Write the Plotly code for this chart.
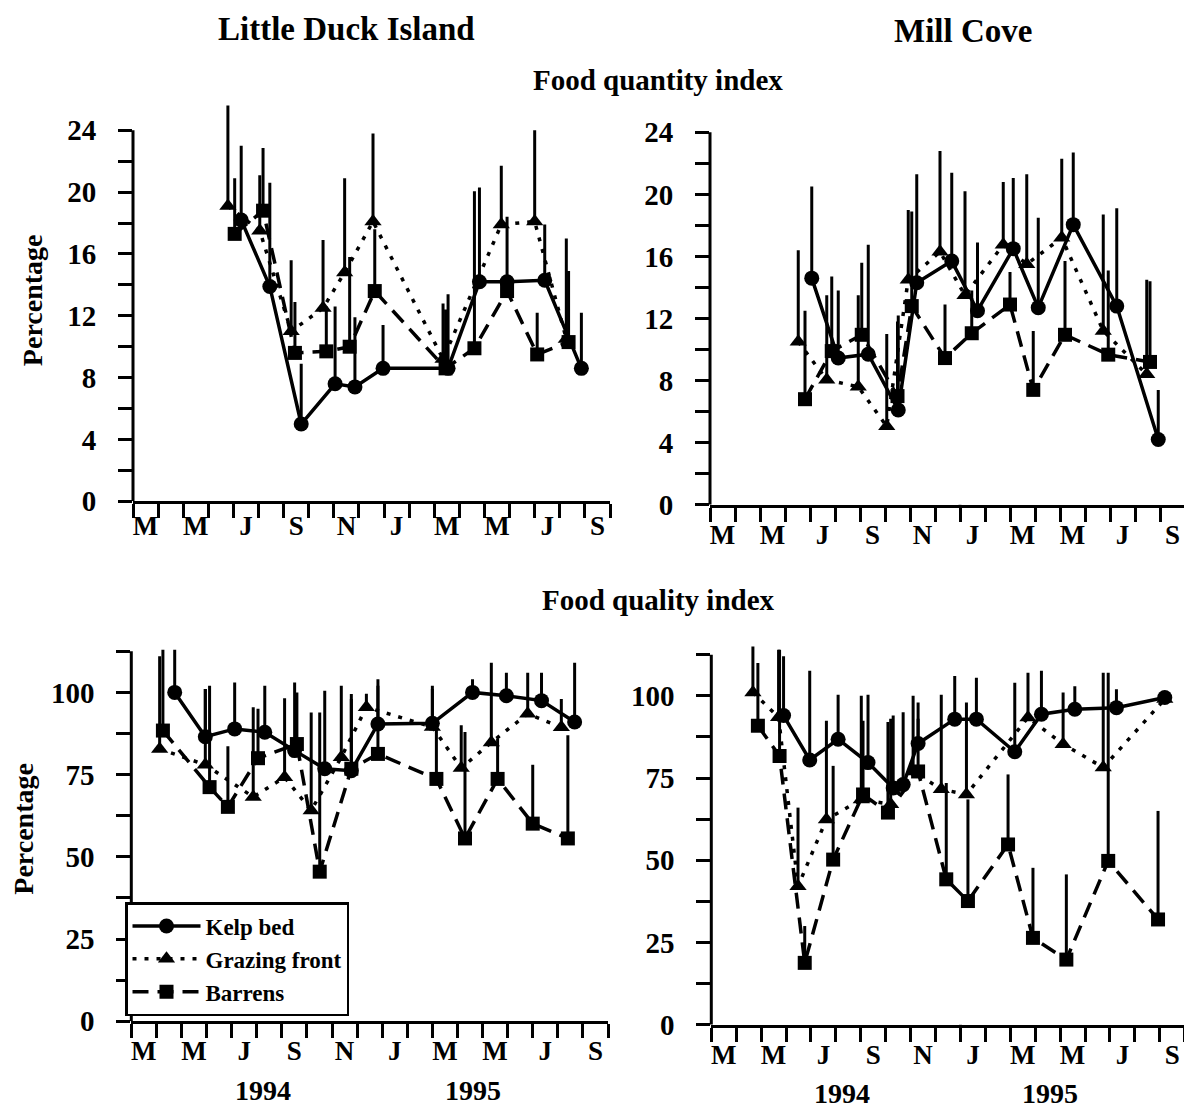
import plotly.graph_objects as go

FONT = "Liberation Serif"

# x positions are month indices: 0 = start of March 1994, 19 = end of September 1995
MONTH_TICKS = list(range(20))
MONTH_LABEL_POS = [0.5, 2.5, 4.5, 6.5, 8.5, 10.5, 12.5, 14.5, 16.5, 18.5]
MONTH_LABELS = ["M", "M", "J", "S", "N", "J", "M", "M", "J", "S"]
YEAR_BOUNDARY = [10]          # 1 January 1995
YEAR_LABELS = ["1994", "1995"]
YEAR_POS = [5.25, 13.6]
SERIES = ["Kelp bed", "Grazing front", "Barrens"]

QN_TICKS = [0, 4, 8, 12, 16, 20, 24]
QN_MINOR = [0, 2, 4, 6, 8, 10, 12, 14, 16, 18, 20, 22, 24]
QL_TICKS = [0, 25, 50, 75, 100]
QL_MINOR = [0, 12.5, 25, 37.5, 50, 62.5, 75, 87.5, 100, 112.5]

# ---------- Little Duck Island, food quantity index ----------
ldi_qn_kelp_m = [4.31, 5.45, 6.70, 8.05, 8.84, 9.96, 12.55, 13.80, 14.90, 16.40, 17.86]
ldi_qn_kelp_v = [18.2, 13.9, 5.0, 7.6, 7.4, 8.6, 8.6, 14.2, 14.2, 14.3, 8.6]
ldi_qn_kelp_t = [23.0, 20.6, 8.9, 12.6, 11.9, 11.4, 13.4, 20.3, 18.4, 17.9, 12.2]

ldi_qn_graz_m = [3.78, 5.05, 6.30, 7.57, 8.43, 9.56, 12.35, 14.67, 16.00, 17.26]
ldi_qn_graz_v = [19.1, 17.5, 11.0, 12.5, 14.8, 18.1, 9.2, 17.9, 18.1, 10.5]
ldi_qn_graz_t = [25.6, 21.1, 15.6, 16.9, 20.9, 23.8, 12.8, 21.7, 24.0, 17.0]

ldi_qn_barr_m = [4.05, 5.18, 6.45, 7.70, 8.63, 9.63, 12.45, 13.60, 14.90, 16.10, 17.35]
ldi_qn_barr_v = [17.3, 18.8, 9.6, 9.7, 10.0, 13.6, 8.6, 9.9, 13.6, 9.5, 10.3]
ldi_qn_barr_t = [20.9, 22.85, 12.9, 12.6, 15.8, 17.6, 12.4, 20.05, 14.5, 12.2, 14.9]

# ---------- Mill Cove, food quantity index ----------
mc_qn_kelp_m = [4.07, 5.13, 6.33, 7.53, 8.27, 9.67, 10.70, 12.13, 13.13, 14.53, 16.27, 17.93]
mc_qn_kelp_v = [14.6, 9.45, 9.7, 6.1, 14.3, 15.7, 12.5, 16.5, 12.7, 18.05, 12.8, 4.2]
mc_qn_kelp_t = [20.5, 13.8, 16.75, 12.2, 21.3, 21.4, 16.9, 21.05, 18.5, 22.7, 19.1, 7.4]

mc_qn_graz_m = [3.53, 4.67, 5.93, 7.07, 7.93, 9.20, 10.20, 11.73, 12.67, 14.07, 15.73, 17.47]
mc_qn_graz_v = [10.5, 8.05, 7.6, 5.05, 14.5, 16.3, 13.5, 16.75, 15.5, 17.2, 11.2, 8.4]
mc_qn_graz_t = [16.4, 13.5, 13.5, 11.0, 19.0, 22.8, 20.2, 20.8, 21.3, 22.3, 18.7, 14.5]

mc_qn_barr_m = [3.80, 4.87, 6.07, 7.50, 8.07, 9.40, 10.47, 12.00, 12.93, 14.20, 15.93, 17.60]
mc_qn_barr_v = [6.8, 9.9, 10.95, 7.0, 12.8, 9.45, 11.05, 12.9, 7.4, 10.95, 9.67, 9.2]
mc_qn_barr_t = [12.5, 14.7, 15.6, 11.8, 18.9, 12.9, 13.8, 15.0, 11.2, 15.7, 15.1, 14.4]

# ---------- Little Duck Island, food quality index ----------
ldi_ql_kelp_m = [1.73, 2.95, 4.12, 5.32, 6.51, 7.71, 8.77, 9.83, 12.00, 13.60, 14.95, 16.35, 17.67]
ldi_ql_kelp_v = [100.0, 86.5, 88.9, 87.9, 82.3, 76.8, 76.2, 90.4, 90.6, 100.0, 99.0, 97.5, 91.0]
ldi_ql_kelp_t = [113.0, 101.0, 103.0, 102.0, 103.0, 100.5, 99.5, 104.0, 102.0, 104.0, 106.0, 106.0, 109.0]

ldi_ql_graz_m = [1.13, 2.95, 4.86, 6.11, 7.17, 8.37, 9.37, 12.00, 13.15, 14.35, 15.80, 17.14]
ldi_ql_graz_v = [82.8, 78.0, 68.2, 74.2, 64.1, 80.3, 95.5, 89.5, 77.0, 84.8, 93.5, 89.4]
ldi_ql_graz_t = [111.0, 101.0, 95.5, 98.2, 93.9, 102.0, 99.6, 101.0, 90.0, 109.0, 106.0, 98.0]

ldi_ql_barr_m = [1.26, 3.12, 3.85, 5.05, 6.60, 7.51, 8.77, 9.83, 12.16, 13.30, 14.60, 16.00, 17.40]
ldi_ql_barr_v = [88.4, 71.2, 65.2, 80.0, 84.3, 45.5, 76.8, 81.3, 73.7, 55.6, 73.7, 60.1, 55.6]
ldi_ql_barr_t = [113.0, 102.0, 83.6, 95.0, 100.0, 93.9, 98.0, 102.0, 91.0, 88.0, 86.0, 78.0, 87.0]

# ---------- Mill Cove, food quality index ----------
mc_ql_kelp_m = [2.90, 3.95, 5.09, 6.29, 7.30, 7.70, 8.30, 9.77, 10.64, 12.18, 13.25, 14.59, 16.26, 18.20]
mc_ql_kelp_v = [94.0, 80.5, 86.8, 79.7, 72.0, 73.0, 85.5, 92.9, 92.9, 83.0, 94.4, 95.9, 96.4, 99.5]
mc_ql_kelp_t = [112.0, 107.6, 100.3, 100.3, 94.0, 95.0, 98.0, 106.0, 105.5, 104.0, 107.6, 102.9, 102.0, 101.0]

mc_ql_graz_m = [1.67, 2.70, 3.48, 4.62, 6.02, 7.20, 8.10, 9.23, 10.24, 12.71, 14.12, 15.73, 18.20]
mc_ql_graz_v = [101.0, 93.5, 42.1, 62.4, 68.5, 67.0, 77.0, 71.6, 70.0, 93.4, 85.3, 78.2, 99.0]
mc_ql_graz_t = [115.0, 114.0, 66.0, 92.4, 100.0, 93.0, 100.0, 100.3, 98.0, 107.0, 101.0, 107.0, 100.0]

mc_ql_barr_m = [1.87, 2.74, 3.75, 4.89, 6.09, 7.09, 8.30, 9.43, 10.30, 11.91, 12.91, 14.25, 15.93, 17.93]
mc_ql_barr_v = [90.9, 81.7, 18.8, 50.2, 70.0, 64.5, 77.0, 44.2, 37.6, 54.8, 26.4, 19.8, 49.8, 32.0]
mc_ql_barr_t = [110.0, 114.0, 30.0, 78.7, 92.4, 92.0, 93.0, 73.5, 68.5, 76.1, 47.7, 45.7, 107.0, 65.0]

panels = [
    ("x", "y", [(ldi_qn_kelp_m, ldi_qn_kelp_v, ldi_qn_kelp_t),
                (ldi_qn_graz_m, ldi_qn_graz_v, ldi_qn_graz_t),
                (ldi_qn_barr_m, ldi_qn_barr_v, ldi_qn_barr_t)]),
    ("x2", "y2", [(mc_qn_kelp_m, mc_qn_kelp_v, mc_qn_kelp_t),
                  (mc_qn_graz_m, mc_qn_graz_v, mc_qn_graz_t),
                  (mc_qn_barr_m, mc_qn_barr_v, mc_qn_barr_t)]),
    ("x3", "y3", [(ldi_ql_kelp_m, ldi_ql_kelp_v, ldi_ql_kelp_t),
                  (ldi_ql_graz_m, ldi_ql_graz_v, ldi_ql_graz_t),
                  (ldi_ql_barr_m, ldi_ql_barr_v, ldi_ql_barr_t)]),
    ("x4", "y4", [(mc_ql_kelp_m, mc_ql_kelp_v, mc_ql_kelp_t),
                  (mc_ql_graz_m, mc_ql_graz_v, mc_ql_graz_t),
                  (mc_ql_barr_m, mc_ql_barr_v, mc_ql_barr_t)]),
]

STYLE = {
    "Kelp bed": dict(symbol="circle", size=15, dash="solid"),
    "Grazing front": dict(symbol="triangle-up", size=15, dash="4px,8px"),
    "Barrens": dict(symbol="square", size=14, dash="16px,9px"),
}

fig = go.Figure()
for pi, (xa, ya, series) in enumerate(panels):
    for name, (m, v, t) in zip(SERIES, series):
        st = STYLE[name]
        fig.add_trace(go.Scatter(
            x=m, y=v, xaxis=xa, yaxis=ya, name=name, legendgroup=name,
            showlegend=(pi == 2), mode="lines+markers", cliponaxis=False,
            line=dict(color="black", width=3.5, dash=st["dash"]),
            marker=dict(symbol=st["symbol"], size=st["size"], color="black", line=dict(width=0)),
            error_y=dict(type="data", symmetric=False,
                         array=[tt - vv for tt, vv in zip(t, v)],
                         arrayminus=[0] * len(v),
                         width=0, thickness=3, color="black"),
        ))

tickfont = dict(family=FONT, size=29, color="black", weight="bold")
monthfont = dict(family=FONT, size=27, color="black", weight="bold")

W, H = 1192, 1114


def xaxis_cfg(x0, x1, anchor, standoff):
    return dict(domain=[x0 / W, x1 / W], anchor=anchor, range=[0, 19], showline=True, linewidth=3,
                linecolor="black", tickmode="array", tickvals=MONTH_LABEL_POS,
                ticktext=MONTH_LABELS, ticks="", ticklabelstandoff=standoff, tickfont=monthfont,
                minor=dict(tickmode="array", tickvals=MONTH_TICKS, ticks="outside", ticklen=14,
                           tickwidth=3, tickcolor="black"),
                showgrid=False, zeroline=False, automargin=False, fixedrange=True)


def yaxis_cfg(py0, pyaxtop, axtop, rng_top, anchor, major, minor, title=None):
    # py0: pixel row of value 0; pyaxtop: pixel row of value axtop (end of drawn axis)
    ppu = (py0 - pyaxtop) / axtop
    pytop = py0 - rng_top * ppu
    cfg = dict(domain=[1 - py0 / H, 1 - pytop / H], anchor=anchor, range=[0, rng_top],
               showline=False, tickmode="array", tickvals=major, ticks="outside",
               ticklen=14, tickwidth=3, tickcolor="black", tickfont=tickfont,
               ticklabelstandoff=16,
               minor=dict(tickmode="array", tickvals=minor, ticks="outside", ticklen=14,
                          tickwidth=3, tickcolor="black", showgrid=False),
               showgrid=False, zeroline=False, automargin=False, fixedrange=True)
    if title:
        cfg["title"] = dict(text=title, font=dict(family=FONT, size=28, color="black", weight="bold"),
                            standoff=16)
    return cfg


fig.update_layout(
    template="none",
    width=W, height=H,
    margin=dict(l=0, r=0, t=0, b=0, pad=0),
    paper_bgcolor="white", plot_bgcolor="white",
    font=dict(family=FONT, color="black"),
    xaxis=xaxis_cfg(125, 602, "y", -2),
    yaxis=yaxis_cfg(493.3, 122.3, 24, 26, "x", QN_TICKS, QN_MINOR, "Percentage"),
    xaxis2=xaxis_cfg(702, 1177, "y2", 4),
    yaxis2=yaxis_cfg(496.7, 124.3, 24, 26, "x2", QN_TICKS, QN_MINOR),
    xaxis3=xaxis_cfg(123.3, 600, "y3", 3),
    yaxis3=yaxis_cfg(1013.3, 643.3, 112.5, 117, "x3", QL_TICKS, QL_MINOR, "Percentage"),
    xaxis4=xaxis_cfg(703.3, 1176.7, "y4", 4),
    yaxis4=yaxis_cfg(1016.7, 646.7, 112.5, 117, "x4", QL_TICKS, QL_MINOR),
    showlegend=True,
    legend=dict(x=117 / W, y=1 - 894 / H, xanchor="left", yanchor="top",
                bgcolor="white", bordercolor="black", borderwidth=2.5,
                font=dict(family=FONT, size=23, color="black", weight="bold"),
                itemwidth=68, tracegroupgap=0, traceorder="normal"),
)

for xa, ya, axtop in (("x", "y", QN_MINOR[-1]), ("x2", "y2", QN_MINOR[-1]),
                      ("x3", "y3", QL_MINOR[-1]), ("x4", "y4", QL_MINOR[-1])):
    # vertical axis line, drawn only up to the last tick
    fig.add_shape(type="line", xref=f"{xa} domain", yref=ya, x0=0, x1=0, y0=0, y1=axtop,
                  line=dict(color="black", width=3), layer="above")
    # longer tick marking the turn of the year
    for xb in YEAR_BOUNDARY:
        fig.add_shape(type="line", xref=xa, yref=ya, x0=xb, x1=xb,
                      ysizemode="pixel", yanchor=0, y0=0, y1=-29,
                      line=dict(color="black", width=3), layer="above")

titles = [
    ("Little Duck Island", 338, 21, 33),
    ("Mill Cove", 955, 23, 33),
    ("Food quantity index", 650, 72, 29),
    ("Food quality index", 650, 592, 29),
]
for text, px, py, fs in titles:
    fig.add_annotation(text=text, x=px / W, y=1 - py / H, xref="paper", yref="paper",
                       xanchor="center", yanchor="middle", showarrow=False,
                       font=dict(family=FONT, size=fs, color="black", weight="bold"))

for xa, py in (("x3", 1082), ("x4", 1085)):
    for label, pos in zip(YEAR_LABELS, YEAR_POS):
        fig.add_annotation(text=label, x=pos, y=1 - py / H, xref=xa, yref="paper",
                           xanchor="center", yanchor="middle", showarrow=False,
                           font=dict(family=FONT, size=28, color="black", weight="bold"))

fig.write_html("out.html")
